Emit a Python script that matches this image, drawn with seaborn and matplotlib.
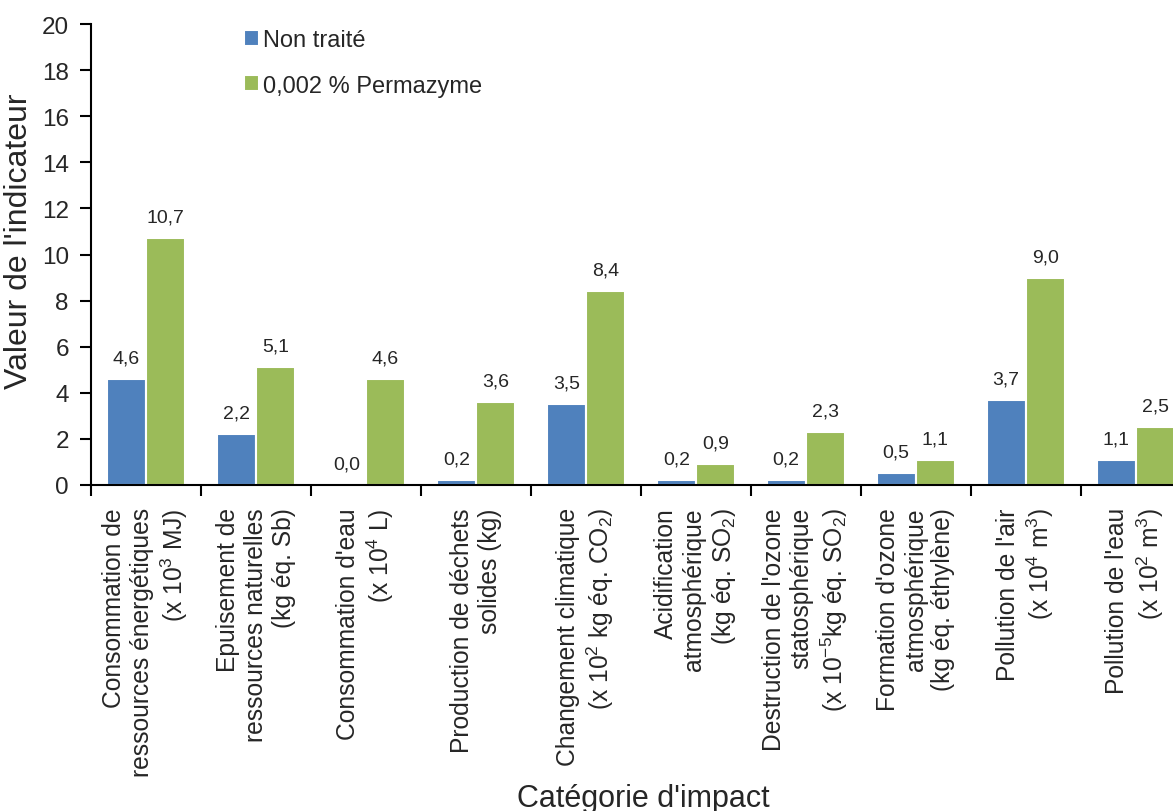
import matplotlib
matplotlib.use('Agg')
import matplotlib.pyplot as plt
import seaborn as sns
import pandas as pd
from matplotlib.ticker import FixedLocator

# Data
categories = [
    "Consommation de\nressources énergétiques\n(x 10$^3$ MJ)",
    "Epuisement de\nressources naturelles\n(kg éq. Sb)",
    "Consommation d'eau\n(x 10$^4$ L)",
    "Production de déchets\nsolides (kg)",
    "Changement climatique\n(x 10$^2$ kg éq. CO$_2$)",
    "Acidification\natmosphérique\n(kg éq. SO$_2$)",
    "Destruction de l'ozone\nstatosphérique\n(x 10$^{-5}$kg éq. SO$_2$)",
    "Formation d'ozone\natmosphérique\n(kg éq. éthylène)",
    "Pollution de l'air\n(x 10$^4$ m$^3$)",
    "Pollution de l'eau\n(x 10$^2$ m$^3$)",
]
series_names = ["Non traité", "0,002 % Permazyme"]
non_traite = [4.6, 2.2, 0.0, 0.2, 3.5, 0.2, 0.2, 0.5, 3.7, 1.1]
permazyme = [10.7, 5.1, 4.6, 3.6, 8.4, 0.9, 2.3, 1.1, 9.0, 2.5]
colors = ["#4F81BD", "#9BBB59"]

df = pd.DataFrame({
    "categorie": categories * 2,
    "serie": [series_names[0]] * len(categories) + [series_names[1]] * len(categories),
    "valeur": non_traite + permazyme,
})

sns.set_style("ticks")
plt.rcParams['font.family'] = ['Liberation Sans', 'DejaVu Sans']
plt.rcParams['mathtext.fontset'] = 'custom'
plt.rcParams['mathtext.rm'] = 'Liberation Sans'
plt.rcParams['mathtext.it'] = 'Liberation Sans:italic'
plt.rcParams['mathtext.bf'] = 'Liberation Sans:bold'

fig = plt.figure(figsize=(11.73, 8.12), dpi=100)
ax = fig.add_axes([91 / 1173, 1 - 486 / 812, 1 - 91 / 1173, (486 - 25) / 812])

sns.barplot(data=df, x="categorie", y="valeur", hue="serie", order=categories,
            hue_order=series_names, palette=colors, width=0.71, saturation=1,
            edgecolor="white", linewidth=1.5, ax=ax)

# value labels with comma decimal separator
for cont, vals in zip(ax.containers, [non_traite, permazyme]):
    ax.bar_label(cont, labels=[f"{v:.1f}".replace(".", ",") for v in vals],
                 padding=9, fontsize=14)

ax.set_ylim(0, 20)
ax.set_yticks(range(0, 21, 2))
ax.set_xlim(-0.5, 9.34)

# category separators as minor ticks
ax.xaxis.set_minor_locator(FixedLocator([i - 0.5 for i in range(len(categories) + 1)]))
ax.tick_params(axis='x', which='major', length=0, pad=16, labelsize=17.7)
ax.tick_params(axis='x', which='minor', length=8, width=1.5, direction='out', color='black')
ax.tick_params(axis='y', length=8, width=1.5, direction='out', labelsize=17.5, pad=8, color='black')
for lab in ax.get_xticklabels():
    lab.set_rotation(90)
    lab.set_ha('center')
    lab.set_va('top')
    lab.set_multialignment('right')

for side in ['top', 'right']:
    ax.spines[side].set_visible(False)
for side in ['left', 'bottom']:
    ax.spines[side].set_linewidth(1.5)
    ax.spines[side].set_color('black')

ax.set_ylabel("Valeur de l'indicateur", fontsize=23)
ax.yaxis.set_label_coords(-0.053, 0.53)
ax.set_xlabel("Catégorie d'impact", fontsize=22)
ax.xaxis.set_label_coords(0.51, -0.646)

handles, labels = ax.get_legend_handles_labels()
ax.legend(handles, labels, loc='upper left', bbox_to_anchor=(244 / 1173, 1 - 30 / 812),
          bbox_transform=fig.transFigure, frameon=False, fontsize=17,
          handlelength=0.65, handleheight=0.65, handletextpad=0.15,
          labelspacing=1.0, borderpad=0, borderaxespad=0)

fig.savefig("out.png", dpi=100)
